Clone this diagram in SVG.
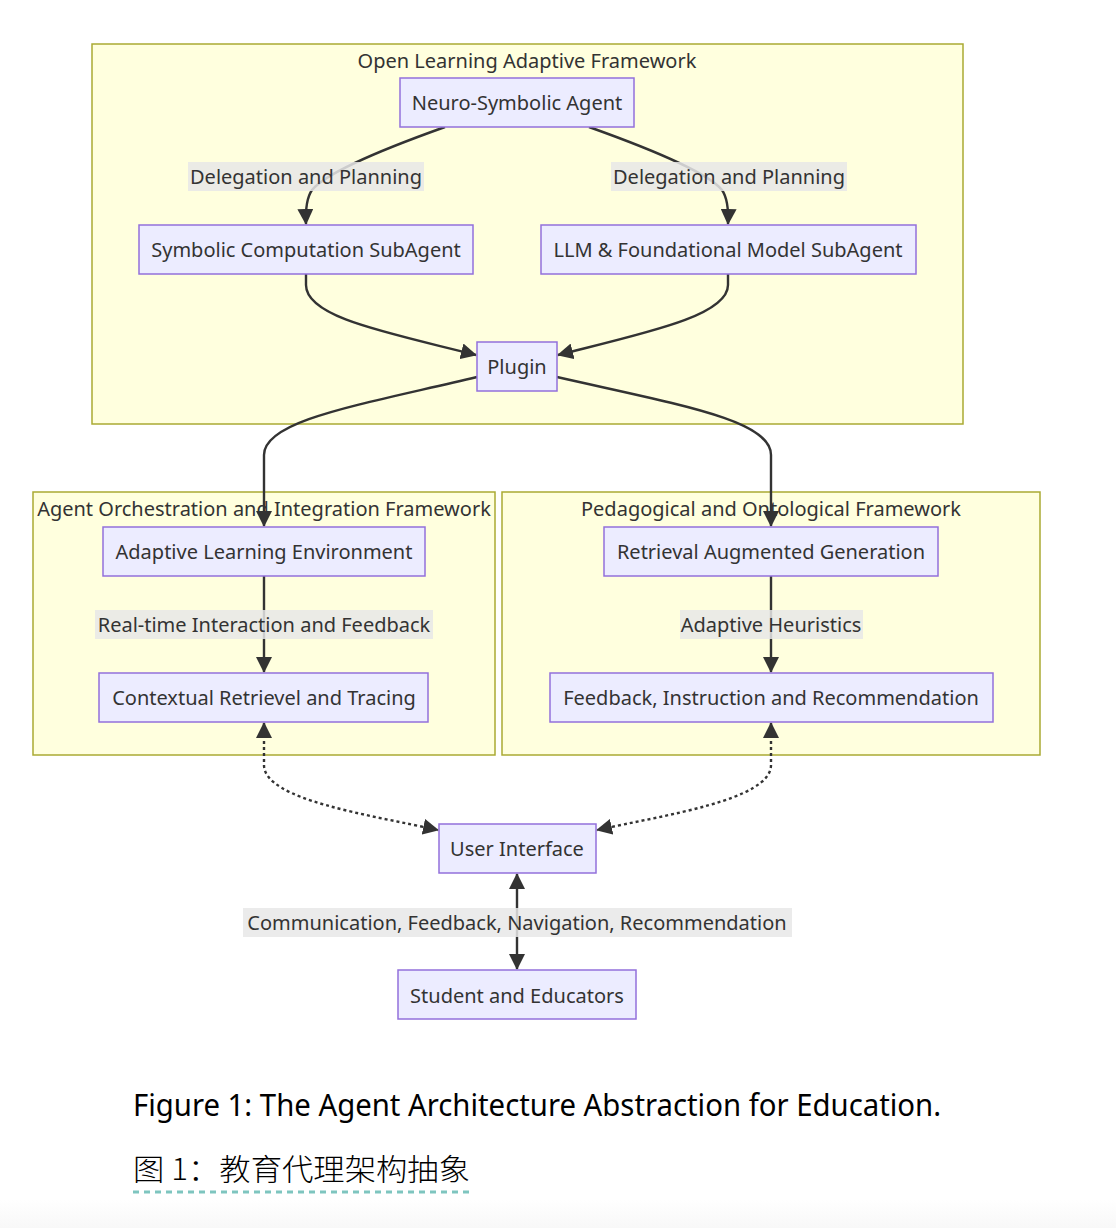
<svg xmlns="http://www.w3.org/2000/svg" width="1116" height="1228" viewBox="0 0 1116 1228">
<defs>
<style>
.cl{fill:#ffffde;stroke:#aaaa33;stroke-width:1.5}
.nd{fill:#ececff;stroke:#9370db;stroke-width:1.5}
.t{font-family:"Noto Sans","Open Sans","DejaVu Sans",sans-serif;font-size:20px;fill:#333;text-anchor:middle;dominant-baseline:central}
.e{fill:none;stroke:#333;stroke-width:2.4}
.d{stroke-dasharray:3 3}
.lb{fill:#e8e8e8;opacity:0.85}
.cap{font-family:"Noto Sans","Open Sans",sans-serif;font-size:30px;fill:#000}
</style>
<marker id="ah" viewBox="0 0 16 16" refX="15" refY="8" markerWidth="16" markerHeight="16" markerUnits="userSpaceOnUse" orient="auto-start-reverse">
<path d="M0,0 L16,8 L0,16 z" fill="#333"/>
</marker>
<linearGradient id="bg" x1="0" y1="0" x2="0" y2="1">
<stop offset="0" stop-color="#ffffff"/>
<stop offset="1" stop-color="#f8f8f8"/>
</linearGradient>
</defs>
<rect x="0" y="0" width="1116" height="1228" fill="#ffffff"/>
<rect x="0" y="1200" width="1116" height="28" fill="url(#bg)"/>

<g id="cluster-open">
<rect class="cl" x="92" y="44" width="871" height="380"/>
<text class="t" x="527" y="60">Open Learning Adaptive Framework</text>
</g>
<g id="cluster-agent">
<rect class="cl" x="33" y="492" width="462" height="263"/>
<text class="t" x="264" y="508">Agent Orchestration and Integration Framework</text>
</g>
<g id="cluster-ped">
<rect class="cl" x="502" y="492" width="538" height="263"/>
<text class="t" x="771" y="508">Pedagogical and Ontological Framework</text>
</g>

<g id="connectors">
<path class="e" d="M445,127 Q330,168 312,190 Q305,200 306,224" marker-end="url(#ah)"/>
<path class="e" d="M589,127 Q704,168 722,190 Q729,200 728,224" marker-end="url(#ah)"/>
<path class="e" d="M306,274 L306,285 C306,318 390,333 476,355" marker-end="url(#ah)"/>
<path class="e" d="M728,274 L728,285 C728,316 645,333 558,355" marker-end="url(#ah)"/>
<path class="e" d="M477,377 C360,405 264,420 264,455 L264,526" marker-end="url(#ah)"/>
<path class="e" d="M557,377 C680,405 771,420 771,455 L771,526" marker-end="url(#ah)"/>
<path class="e" d="M264,576 L264,672" marker-end="url(#ah)"/>
<path class="e" d="M771,576 L771,672" marker-end="url(#ah)"/>
<path class="e d" d="M264,723 L264,765 C264,800 370,815 438,830" marker-start="url(#ah)" marker-end="url(#ah)"/>
<path class="e d" d="M771,723 L771,765 C771,800 665,815 597,830" marker-start="url(#ah)" marker-end="url(#ah)"/>
<path class="e" d="M517,874 L517,969" marker-start="url(#ah)" marker-end="url(#ah)"/>

<g id="edge-labels">
<rect class="lb" x="188" y="162" width="236" height="29"/>
<text class="t" x="306" y="176">Delegation and Planning</text>
<rect class="lb" x="611" y="162" width="236" height="29"/>
<text class="t" x="729" y="176">Delegation and Planning</text>
<rect class="lb" x="95" y="610" width="338" height="29"/>
<text class="t" x="264" y="624">Real-time Interaction and Feedback</text>
<rect class="lb" x="680" y="610" width="183" height="29"/>
<text class="t" x="771" y="624">Adaptive Heuristics</text>
<rect class="lb" x="243" y="908" width="549" height="29"/>
<text class="t" x="517" y="922">Communication, Feedback, Navigation, Recommendation</text>
</g>
</g>

<g id="n-neuro"><rect class="nd" x="400" y="78" width="234" height="49"/><text class="t" x="517" y="102">Neuro-Symbolic Agent</text></g>
<g id="n-symbolic"><rect class="nd" x="139" y="225" width="334" height="49"/><text class="t" x="306" y="249">Symbolic Computation SubAgent</text></g>
<g id="n-llm"><rect class="nd" x="541" y="225" width="375" height="49"/><text class="t" x="728" y="249">LLM &amp; Foundational Model SubAgent</text></g>
<g id="n-plugin"><rect class="nd" x="477" y="342" width="80" height="49"/><text class="t" x="517" y="366">Plugin</text></g>
<g id="n-ale"><rect class="nd" x="103" y="527" width="322" height="49"/><text class="t" x="264" y="551">Adaptive Learning Environment</text></g>
<g id="n-crt"><rect class="nd" x="99" y="673" width="329" height="49"/><text class="t" x="264" y="697">Contextual Retrievel and Tracing</text></g>
<g id="n-rag"><rect class="nd" x="604" y="527" width="334" height="49"/><text class="t" x="771" y="551">Retrieval Augmented Generation</text></g>
<g id="n-fir"><rect class="nd" x="550" y="673" width="443" height="49"/><text class="t" x="771" y="697">Feedback, Instruction and Recommendation</text></g>
<g id="n-ui"><rect class="nd" x="439" y="824" width="157" height="49"/><text class="t" x="517" y="848">User Interface</text></g>
<g id="n-se"><rect class="nd" x="398" y="970" width="238" height="49"/><text class="t" x="517" y="995">Student and Educators</text></g>

<g id="caption">
<text class="cap" x="133" y="1116" textLength="808" lengthAdjust="spacingAndGlyphs">Figure 1: The Agent Architecture Abstraction for Education.</text>
<text x="133" y="1180" style="font-family:'Noto Sans CJK SC',sans-serif;font-size:30px;font-weight:300;fill:#000" textLength="337" lengthAdjust="spacingAndGlyphs">图 1：教育代理架构抽象</text>
<line x1="133" y1="1192" x2="470" y2="1192" stroke="#7ec5bf" stroke-width="3" stroke-dasharray="6 5"/>
</g>
</svg>
